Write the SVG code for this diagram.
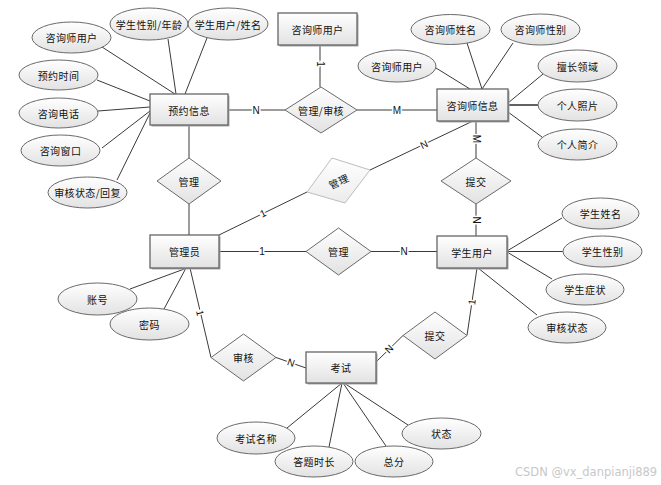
<svg xmlns="http://www.w3.org/2000/svg" width="661" height="485" viewBox="0 0 661 485">
<defs>
<linearGradient id="g" x1="0" y1="0" x2="0" y2="1">
<stop offset="0" stop-color="#ffffff"/>
<stop offset="1" stop-color="#e2e2e2"/>
</linearGradient>
<linearGradient id="gl" x1="0" y1="0" x2="0" y2="1">
<stop offset="0" stop-color="#ffffff"/>
<stop offset="1" stop-color="#ececec"/>
</linearGradient>
</defs>
<style>
.ent{fill:url(#g);stroke:#666;stroke-width:1.3}
.sh{fill:#a8a8a8}
.rel{fill:url(#g);stroke:#6a6a6a;stroke-width:1}
.att{fill:url(#g);stroke:#6a6a6a;stroke-width:1}
.t{font-family:"Noto Sans CJK SC","Noto Sans",sans-serif;font-size:10px;letter-spacing:0.4px;fill:#111;text-anchor:middle;dominant-baseline:central}
.ln{stroke:#3a3a3a;stroke-width:1;fill:none}
.lbl{font-family:"Liberation Sans",Arial,sans-serif;font-size:10px;fill:#111;text-anchor:middle;dominant-baseline:central;stroke:#fff;stroke-width:3;paint-order:stroke}
.wm{font-family:"DejaVu Sans",sans-serif;font-size:11.5px;fill:#c8c8c8}
</style>
<rect width="661" height="485" fill="#fff"/>

<g id="connectors">
<line class="ln" x1="102" y1="47" x2="175" y2="94"/>
<line class="ln" x1="168" y1="39" x2="176" y2="94"/>
<line class="ln" x1="207" y1="38" x2="185" y2="94"/>
<line class="ln" x1="97" y1="80" x2="150" y2="101"/>
<line class="ln" x1="98" y1="111" x2="150" y2="107"/>
<line class="ln" x1="102" y1="148" x2="150" y2="111"/>
<line class="ln" x1="117" y1="180" x2="150" y2="113"/>
<line class="ln" x1="467" y1="43" x2="482" y2="89"/>
<line class="ln" x1="513" y1="43" x2="482" y2="89"/>
<line class="ln" x1="436" y1="68" x2="470" y2="89"/>
<line class="ln" x1="543" y1="74" x2="508" y2="103"/>
<line class="ln" x1="538" y1="105" x2="508" y2="105" style="stroke-width:1.6"/>
<line class="ln" x1="542" y1="137" x2="508" y2="112"/>
<line class="ln" x1="562" y1="218" x2="507" y2="251"/>
<line class="ln" x1="563" y1="251.5" x2="507" y2="251.5"/>
<line class="ln" x1="552" y1="279" x2="507" y2="252"/>
<line class="ln" x1="537" y1="315" x2="478" y2="268"/>
<line class="ln" x1="130" y1="289" x2="187" y2="268"/>
<line class="ln" x1="164" y1="309" x2="186" y2="268"/>
<line class="ln" x1="287" y1="428" x2="342" y2="383"/>
<line class="ln" x1="329" y1="447" x2="342" y2="383"/>
<line class="ln" x1="386" y1="446" x2="343" y2="383"/>
<line class="ln" x1="408" y1="425" x2="344" y2="383"/>

<line class="ln" x1="228" y1="110" x2="285" y2="110"/>
<line class="ln" x1="357" y1="110" x2="437" y2="110"/>
<line class="ln" x1="320" y1="45" x2="320" y2="87"/>
<line class="ln" x1="189" y1="125" x2="189" y2="158"/>
<line class="ln" x1="189" y1="204" x2="189" y2="235"/>
<line class="ln" x1="219" y1="235" x2="307" y2="192"/>
<line class="ln" x1="370" y1="170" x2="473" y2="121"/>
<line class="ln" x1="476" y1="121" x2="476" y2="158"/>
<line class="ln" x1="476" y1="204" x2="476" y2="236"/>
<line class="ln" x1="219" y1="251.5" x2="306" y2="251.5"/>
<line class="ln" x1="371" y1="251.5" x2="437" y2="251.5"/>
<line class="ln" x1="190" y1="268" x2="211" y2="357.5"/>
<line class="ln" x1="276" y1="357.5" x2="306" y2="368"/>
<line class="ln" x1="376" y1="362" x2="403" y2="335.5"/>
<line class="ln" x1="467" y1="335.5" x2="477" y2="268"/>

<text class="lbl" x="256" y="110">N</text>
<text class="lbl" x="397" y="110">M</text>
<text class="lbl" transform="translate(320,64) rotate(90)">1</text>
<text class="lbl" transform="translate(263,213.5) rotate(-26)">1</text>
<text class="lbl" transform="translate(424,144.5) rotate(-25)">N</text>
<text class="lbl" transform="translate(476,139) rotate(90)">M</text>
<text class="lbl" transform="translate(476,220) rotate(90)">N</text>
<text class="lbl" x="262" y="251.5">1</text>
<text class="lbl" x="404" y="251.5">N</text>
<text class="lbl" transform="translate(200,313) rotate(77)">1</text>
<text class="lbl" transform="translate(291,362.5) rotate(19)">N</text>
<text class="lbl" transform="translate(389,349) rotate(-45)">N</text>
<text class="lbl" transform="translate(472,302) rotate(-82)">1</text>
</g>

<g id="n-yuyue"><rect class="sh" x="151.5" y="95.5" width="78" height="31"/><rect class="ent" x="150" y="94" width="78" height="31"/><text class="t" x="189" y="110">预约信息</text></g>
<g id="n-zxsyh-box"><rect class="sh" x="279.5" y="14.5" width="79" height="32"/><rect class="ent" x="278" y="13" width="79" height="32"/><text class="t" x="317.5" y="29">咨询师用户</text></g>
<g id="n-zxsxx"><rect class="sh" x="438.5" y="90.5" width="71" height="32"/><rect class="ent" x="437" y="89" width="71" height="32"/><text class="t" x="472.5" y="105">咨询师信息</text></g>
<g id="n-gly"><rect class="sh" x="151.5" y="236.5" width="69" height="33"/><rect class="ent" x="150" y="235" width="69" height="33"/><text class="t" x="184.5" y="251.5">管理员</text></g>
<g id="n-xsyh"><rect class="sh" x="438.5" y="237.5" width="70" height="32"/><rect class="ent" x="437" y="236" width="70" height="32"/><text class="t" x="472" y="252">学生用户</text></g>
<g id="n-ks"><rect class="sh" x="307.5" y="353.5" width="70" height="31"/><rect class="ent" x="306" y="352" width="70" height="31"/><text class="t" x="341" y="367.5">考试</text></g>

<g id="r-glsh"><polygon class="rel" points="285,110 321,87 357,110 321,133"/><text class="t" x="321" y="110">管理/审核</text></g>
<g id="r-gl1"><polygon class="rel" points="157,181 189,158 221,181 189,204"/><text class="t" x="189" y="181">管理</text></g>
<g id="r-gl2"><polygon points="307,192 332,158 370,170 345,203" style="fill:url(#gl);stroke:#bdbdbd;stroke-width:1"/><text class="t" transform="translate(338.5,181) rotate(-25)">管理</text></g>
<g id="r-tj1"><polygon class="rel" points="441,181 476,158 511,181 476,204"/><text class="t" x="476" y="181">提交</text></g>
<g id="r-gl3"><polygon class="rel" points="306,251.5 338.5,228 371,251.5 338.5,275"/><text class="t" x="338.5" y="251.5">管理</text></g>
<g id="r-sh"><polygon class="rel" points="211,357.5 243.5,334 276,357.5 243.5,381"/><text class="t" x="243.5" y="357.5">审核</text></g>
<g id="r-tj2"><polygon class="rel" points="403,335.5 435,312 467,335.5 435,359"/><text class="t" x="435" y="335.5">提交</text></g>

<g id="a-zxsyh1"><ellipse class="att" cx="71.5" cy="37.5" rx="39.5" ry="15.5"/><text class="t" x="71.5" y="37.5">咨询师用户</text></g>
<g id="a-xsxbnl"><ellipse class="att" cx="149" cy="24" rx="39" ry="16"/><text class="t" x="149" y="24">学生性别/年龄</text></g>
<g id="a-xsyhxm"><ellipse class="att" cx="228" cy="24" rx="40" ry="16"/><text class="t" x="228" y="24">学生用户/姓名</text></g>
<g id="a-yysj"><ellipse class="att" cx="58.5" cy="75" rx="39.5" ry="15"/><text class="t" x="58.5" y="75">预约时间</text></g>
<g id="a-zxdh"><ellipse class="att" cx="58.5" cy="113" rx="39.5" ry="15"/><text class="t" x="58.5" y="113">咨询电话</text></g>
<g id="a-zxck"><ellipse class="att" cx="60.5" cy="150.5" rx="39.5" ry="15.5"/><text class="t" x="60.5" y="150.5">咨询窗口</text></g>
<g id="a-shzthf"><ellipse class="att" cx="87.5" cy="192.5" rx="39.5" ry="15.5"/><text class="t" x="87.5" y="192.5">审核状态/回复</text></g>

<g id="a-zxsxm"><ellipse class="att" cx="450.5" cy="29.5" rx="39.5" ry="15"/><text class="t" x="450.5" y="29.5">咨询师姓名</text></g>
<g id="a-zxsxb"><ellipse class="att" cx="540.5" cy="29.5" rx="39.5" ry="15.5"/><text class="t" x="540.5" y="29.5">咨询师性别</text></g>
<g id="a-zxsyh2"><ellipse class="att" cx="397" cy="66" rx="39" ry="16"/><text class="t" x="397" y="66">咨询师用户</text></g>
<g id="a-scly"><ellipse class="att" cx="577.5" cy="66" rx="39.5" ry="16"/><text class="t" x="577.5" y="66">擅长领域</text></g>
<g id="a-grzp"><ellipse class="att" cx="577.5" cy="105" rx="39.5" ry="16"/><text class="t" x="577.5" y="105">个人照片</text></g>
<g id="a-grjj"><ellipse class="att" cx="577.5" cy="144.5" rx="39.5" ry="15.5"/><text class="t" x="577.5" y="144.5">个人简介</text></g>

<g id="a-xsxm"><ellipse class="att" cx="600.5" cy="213.5" rx="38.5" ry="15.5"/><text class="t" x="600.5" y="213.5">学生姓名</text></g>
<g id="a-xsxb"><ellipse class="att" cx="602.5" cy="251.5" rx="39.5" ry="15.5"/><text class="t" x="602.5" y="251.5">学生性别</text></g>
<g id="a-xszz"><ellipse class="att" cx="585" cy="289.5" rx="39" ry="15.5"/><text class="t" x="585" y="289.5">学生症状</text></g>
<g id="a-shzt"><ellipse class="att" cx="567" cy="327.5" rx="39" ry="15.5"/><text class="t" x="567" y="327.5">审核状态</text></g>

<g id="a-zh"><ellipse class="att" cx="97.5" cy="299" rx="39.5" ry="16"/><text class="t" x="97.5" y="299">账号</text></g>
<g id="a-mm"><ellipse class="att" cx="149.5" cy="324" rx="39.5" ry="16"/><text class="t" x="149.5" y="324">密码</text></g>

<g id="a-ksmc"><ellipse class="att" cx="256" cy="438" rx="39" ry="16"/><text class="t" x="256" y="438">考试名称</text></g>
<g id="a-dtsc"><ellipse class="att" cx="314" cy="461.5" rx="39" ry="15.5"/><text class="t" x="314" y="461.5">答题时长</text></g>
<g id="a-zf"><ellipse class="att" cx="394" cy="461.5" rx="39" ry="15.5"/><text class="t" x="394" y="461.5">总分</text></g>
<g id="a-zt"><ellipse class="att" cx="441.5" cy="433.5" rx="39.5" ry="15.5"/><text class="t" x="441.5" y="433.5">状态</text></g>

<text class="wm" x="515" y="476">CSDN @vx_danpianji889</text>
</svg>
